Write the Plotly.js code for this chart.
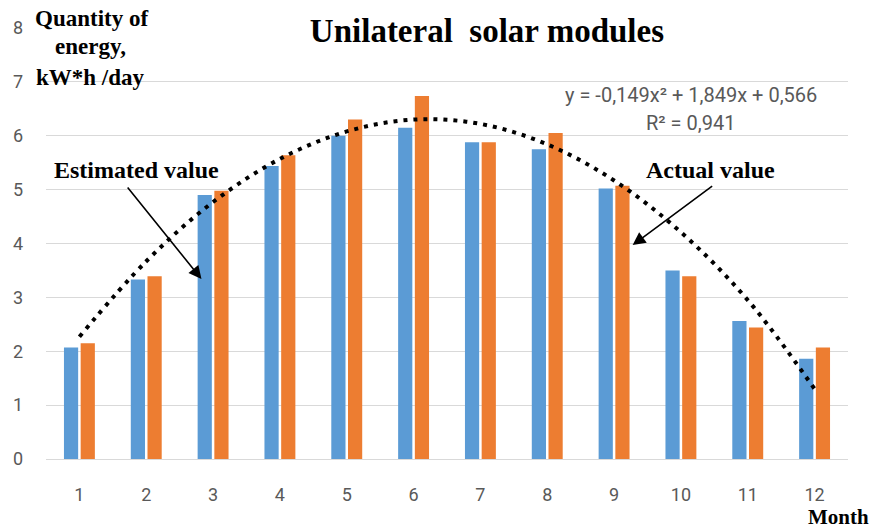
<!DOCTYPE html>
<html>
<head>
<meta charset="utf-8">
<script src="https://cdn.plot.ly/plotly-3.0.1.min.js"></script>
<style>html,body{margin:0;padding:0;background:#fff;}#chart{width:877px;height:528px;}</style>
</head>
<body>
<div id="chart"></div>
<script>
const months = [1, 2, 3, 4, 5, 6, 7, 8, 9, 10, 11, 12];
const monthLabels = ["1", "2", "3", "4", "5", "6", "7", "8", "9", "10", "11", "12"];
const estimated = [2.07, 3.33, 4.90, 5.44, 6.00, 6.15, 5.88, 5.75, 5.02, 3.50, 2.56, 1.86];
const actual = [2.15, 3.39, 4.98, 5.64, 6.30, 6.74, 5.88, 6.05, 5.07, 3.39, 2.44, 2.07];
const trendValues = [2.27, 3.67, 4.77, 5.57, 6.08, 6.30, 6.22, 5.84, 5.17, 4.21, 2.95, 1.30];
const yTicks = [0, 1, 2, 3, 4, 5, 6, 7, 8];

const serif = "Liberation Serif, Times New Roman, serif";
const sans = "Roboto, Noto Sans, sans-serif";

const traces = [
  {type: "bar", x: months, y: estimated, name: "Estimated value",
   marker: {color: "#5B9BD5"}, hoverinfo: "y"},
  {type: "bar", x: months, y: actual, name: "Actual value",
   marker: {color: "#ED7D31"}, hoverinfo: "y"},
  {type: "scatter", mode: "lines", x: months, y: trendValues, name: "Trend",
   line: {color: "#000", width: 4, dash: "4px,6px", shape: "spline", smoothing: 1}, hoverinfo: "skip"}
];

const layout = {
  width: 877, height: 528,
  margin: {l: 46, r: 29, t: 28, b: 68.5},
  paper_bgcolor: "#fff", plot_bgcolor: "#fff",
  showlegend: false,
  barmode: "group", bargap: 0.5, bargroupgap: 0.15,
  title: {text: "Unilateral  solar modules", font: {family: serif, size: 33, color: "#000", weight: "bold"},
          xref: "paper", x: 0.5498, xanchor: "center", yref: "container", y: 0.943, yanchor: "middle"},
  xaxis: {range: [0.5, 12.5], tickvals: months, ticktext: monthLabels, showgrid: false,
          zeroline: false, showline: true, linecolor: "#d9d9d9", linewidth: 1, ticks: "",
          tickfont: {family: sans, size: 18, color: "#595959"}, ticklabelstandoff: 19, fixedrange: true},
  yaxis: {range: [0, 8], tickvals: yTicks, showgrid: true, gridcolor: "#d9d9d9", gridwidth: 1,
          zeroline: false, showline: false, ticks: "",
          tickfont: {family: sans, size: 18, color: "#595959"}, ticklabelstandoff: 22, fixedrange: true},
  annotations: [
    {text: "Quantity of", xref: "paper", yref: "paper", x: 0.0572, y: 1.0232, showarrow: false,
     font: {family: serif, size: 23, color: "#000", weight: "bold"}, xanchor: "center", yanchor: "middle"},
    {text: "energy,", xref: "paper", yref: "paper", x: 0.0553, y: 0.956, showarrow: false,
     font: {family: serif, size: 23, color: "#000", weight: "bold"}, xanchor: "center", yanchor: "middle"},
    {text: "kW*h /day", xref: "paper", yref: "paper", x: 0.0553, y: 0.884, showarrow: false,
     font: {family: serif, size: 23, color: "#000", weight: "bold"}, xanchor: "center", yanchor: "middle"},
    {text: "Month", xref: "paper", yref: "paper", x: 0.9883, y: -0.1345, showarrow: false,
     font: {family: serif, size: 21, color: "#000", weight: "bold"}, xanchor: "center", yanchor: "middle"},
    {text: "Estimated value", xref: "paper", yref: "paper", x: 0.1132, y: 0.6709, showarrow: false,
     font: {family: serif, size: 24, color: "#000", weight: "bold"}, xanchor: "center", yanchor: "middle"},
    {text: "Actual value", xref: "paper", yref: "paper", x: 0.8289, y: 0.6709, showarrow: false,
     font: {family: serif, size: 24, color: "#000", weight: "bold"}, xanchor: "center", yanchor: "middle"},
    {text: "y = -0,149x² + 1,849x + 0,566", xref: "paper", yref: "paper", x: 0.8039, y: 0.8447, showarrow: false,
     font: {family: sans, size: 20, color: "#595959"}, xanchor: "center", yanchor: "middle"},
    {text: "R² = 0,941", xref: "paper", yref: "paper", x: 0.8039, y: 0.7805, showarrow: false,
     font: {family: sans, size: 20, color: "#595959"}, xanchor: "center", yanchor: "middle"},
    {text: "", x: 2.826, y: 3.34, xref: "x", yref: "y", showarrow: true, ax: -75, ay: -93,
     arrowhead: 2, arrowsize: 1.6, arrowwidth: 1.6, arrowcolor: "#000", standoff: 0},
    {text: "", x: 9.278, y: 3.97, xref: "x", yref: "y", showarrow: true, ax: 81, ay: -60,
     arrowhead: 2, arrowsize: 1.6, arrowwidth: 1.6, arrowcolor: "#000", standoff: 0}
  ]
};

Plotly.newPlot("chart", traces, layout, {displayModeBar: false, staticPlot: true});
</script>
</body>
</html>
